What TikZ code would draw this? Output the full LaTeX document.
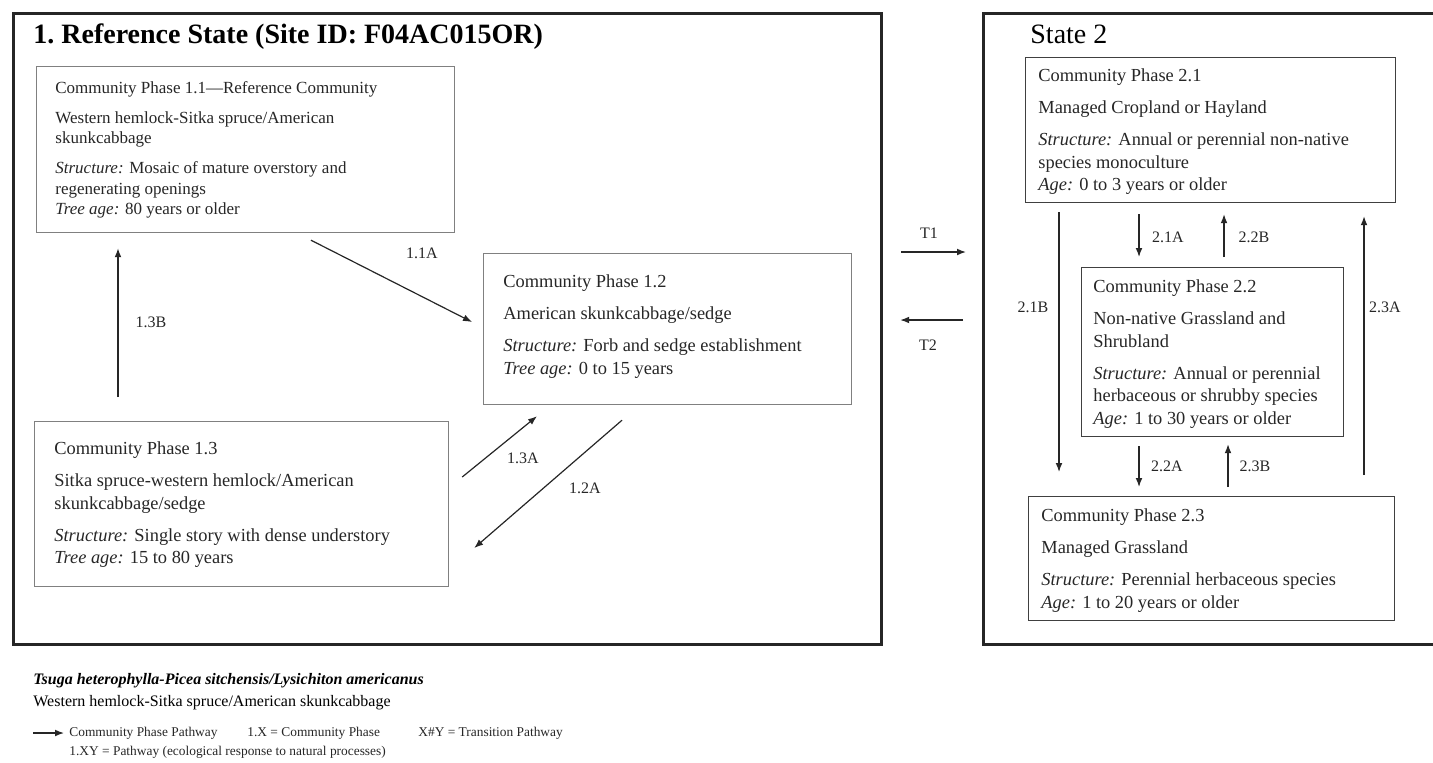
\documentclass[tikz,border=0pt]{standalone}
\usepackage{fontspec}
\setmainfont{Liberation Serif}
\usetikzlibrary{arrows.meta}

\begin{document}
\begin{tikzpicture}[x=0.5pt, y=-0.5pt, >={Latex[length=4.5pt,width=3.4pt]},
    statebox/.style={draw=black!85, line width=1.6pt, anchor=north west, inner sep=0pt},
    phasebox/.style={draw=black!50, line width=0.6pt, anchor=north west, inner sep=0pt},
    phasebox2/.style={phasebox, draw=black!75},
    phasetext/.style={anchor=north west, inner sep=0pt, align=left, text=black!85, font=\fontsize{9.2}{11.25}\selectfont},
    pway/.style={->, line width=0.6pt, draw=black!85},
    pwaylabel/.style={inner sep=1pt, text=black!85, font=\fontsize{8}{9.6}\selectfont},
    legend/.style={anchor=west, inner sep=0pt, text=black!85, font=\fontsize{6.7}{8}\selectfont}]
    \useasboundingbox (0,0) rectangle (1433,762);

    % State 1
    \node[statebox, minimum width=434pt, minimum height=315.5pt] (s1) at (12,12) {};
    \node[anchor=base west, inner sep=0pt, font=\fontsize{14}{16}\selectfont\bfseries] (s1title) at (33,43) {1.\ Reference State (Site ID: F04AC015OR)};

    % Community Phase 1.1
    \node[phasebox, minimum width=209pt, minimum height=83pt] (p11) at (36,66) {};
    \node[phasetext, font=\fontsize{8.5}{10.25}\selectfont] (t11) at (55,81) {Community Phase 1.1---Reference Community\\[4.75pt]
        Western hemlock-Sitka spruce/American\\ skunkcabbage\\[4.75pt]
        \textit{Structure:} Mosaic of mature overstory and\\ regenerating openings\\ \textit{Tree age:} 80 years or older};

    % Community Phase 1.2
    \node[phasebox, minimum width=184pt, minimum height=75.5pt] (p12) at (483,253) {};
    \node[phasetext] (t12) at (503,274.5) {Community Phase 1.2\\[4.75pt]
        American skunkcabbage/sedge\\[4.75pt]
        \textit{Structure:} Forb and sedge establishment\\ \textit{Tree age:} 0 to 15 years};

    % Community Phase 1.3
    \node[phasebox, minimum width=207pt, minimum height=82.5pt] (p13) at (34,421) {};
    \node[phasetext] (t13) at (54,441.5) {Community Phase 1.3\\[4.75pt]
        Sitka spruce-western hemlock/American\\ skunkcabbage/sedge\\[4.75pt]
        \textit{Structure:} Single story with dense understory\\ \textit{Tree age:} 15 to 80 years};

    % Pathways in state 1
    \coordinate (x13b) at (118,0);
    \draw[pway, shorten <=12pt, shorten >=7.5pt] (p13.north -| x13b) -- (p11.south -| x13b);
    \node[pwaylabel] (l13b) at (151,322) {1.3B};
    \draw[pway] ([shift={(275,7)}]p11.south west) -- ([shift={(-11,69)}]p12.north west);
    \node[pwaylabel] (l11a) at (422,253) {1.1A};
    \draw[pway] ([shift={(13,56)}]p13.north east) -- ([shift={(54,11)}]p12.south west);
    \node[pwaylabel] (l13a) at (523,458) {1.3A};
    \draw[pway] ([shift={(139,15)}]p12.south west) -- ([shift={(25,127)}]p13.north east);
    \node[pwaylabel] (l12a) at (585,488) {1.2A};

    % State 2
    \node[statebox, minimum width=235pt, minimum height=315.5pt] (s2) at (982,12) {};
    \node[anchor=base west, inner sep=0pt, font=\fontsize{14}{16}\selectfont] (s2title) at (1030,43) {State 2};

    % Community Phase 2.1
    \node[phasebox2, minimum width=185pt, minimum height=72.5pt] (p21) at (1025,57) {};
    \node[phasetext] (t21) at (1038,68.5) {Community Phase 2.1\\[4.75pt]
        Managed Cropland or Hayland\\[4.75pt]
        \textit{Structure:} Annual or perennial non-native\\ species monoculture\\ \textit{Age:} 0 to 3 years or older};

    % Community Phase 2.2
    \node[phasebox2, minimum width=131pt, minimum height=84.5pt] (p22) at (1081,267) {};
    \node[phasetext] (t22) at (1093,279.5) {Community Phase 2.2\\[4.75pt]
        Non-native Grassland and\\ Shrubland\\[4.75pt]
        \textit{Structure:} Annual or perennial\\ herbaceous or shrubby species\\ \textit{Age:} 1 to 30 years or older};

    % Community Phase 2.3
    \node[phasebox2, minimum width=183pt, minimum height=62pt] (p23) at (1028,496) {};
    \node[phasetext] (t23) at (1041,508.5) {Community Phase 2.3\\[4.75pt]
        Managed Grassland\\[4.75pt]
        \textit{Structure:} Perennial herbaceous species\\ \textit{Age:} 1 to 20 years or older};

    % Pathways in state 2
    \coordinate (x21b) at (1059,0);
    \coordinate (x21a) at (1139,0);
    \coordinate (x22b) at (1224,0);
    \coordinate (x23b) at (1228,0);
    \coordinate (x23a) at (1364,0);
    \draw[pway, shorten <=4.5pt, shorten >=12pt] (p21.south -| x21b) -- (p23.north -| x21b);
    \node[pwaylabel] (l21b) at (1033,307) {2.1B};
    \draw[pway, shorten <=5.5pt, shorten >=5pt] (p21.south -| x21a) -- (p22.north -| x21a);
    \node[pwaylabel] (l21a) at (1168,237) {2.1A};
    \draw[pway, shorten <=5pt, shorten >=5.5pt] (p22.north -| x22b) -- (p21.south -| x22b);
    \node[pwaylabel] (l22b) at (1254,237) {2.2B};
    \draw[pway, shorten <=10.5pt, shorten >=6.5pt] (p23.north -| x23a) -- (p21.south -| x23a);
    \node[pwaylabel] (l23a) at (1385,307) {2.3A};
    \draw[pway, shorten <=4.5pt, shorten >=4.5pt] (p22.south -| x21a) -- (p23.north -| x21a);
    \node[pwaylabel] (l22a) at (1167,466) {2.2A};
    \draw[pway, shorten <=4.5pt, shorten >=3.5pt] (p23.north -| x23b) -- (p22.south -| x23b);
    \node[pwaylabel] (l23b) at (1255,466) {2.3B};

    % Transitions
    \coordinate (t1y) at (0,252);
    \coordinate (t2y) at (0,320);
    \draw[pway, shorten <=9pt, shorten >=8pt] (s1.east |- t1y) -- (s2.west |- t1y);
    \node[pwaylabel] (lt1) at (929,233) {T1};
    \draw[pway, shorten <=9.5pt, shorten >=8.5pt] (s2.west |- t2y) -- (s1.east |- t2y);
    \node[pwaylabel] (lt2) at (928,345) {T2};

    % Caption and legend
    \node[anchor=base west, inner sep=0pt, font=\fontsize{8}{9.6}\selectfont\bfseries\itshape] (latin) at (33,684) {Tsuga heterophylla-Picea sitchensis/Lysichiton americanus};
    \node[anchor=base west, inner sep=0pt, font=\fontsize{8}{9.6}\selectfont] (common) at (33,706) {Western hemlock-Sitka spruce/American skunkcabbage};
    \coordinate (lgstart) at (33,733);
    \node[legend] (lgpath) at (69,733) {Community Phase Pathway};
    \node[legend] (lgphase) at (247,733) {1.X = Community Phase};
    \node[legend] (lgtrans) at (418,733) {X\#Y = Transition Pathway};
    \node[legend] (lgnat) at (69,752) {1.XY = Pathway (ecological response to natural processes)};
    \draw[pway, shorten >=2.5pt] (lgstart) -- (lgpath.west);
\end{tikzpicture}
\end{document}
